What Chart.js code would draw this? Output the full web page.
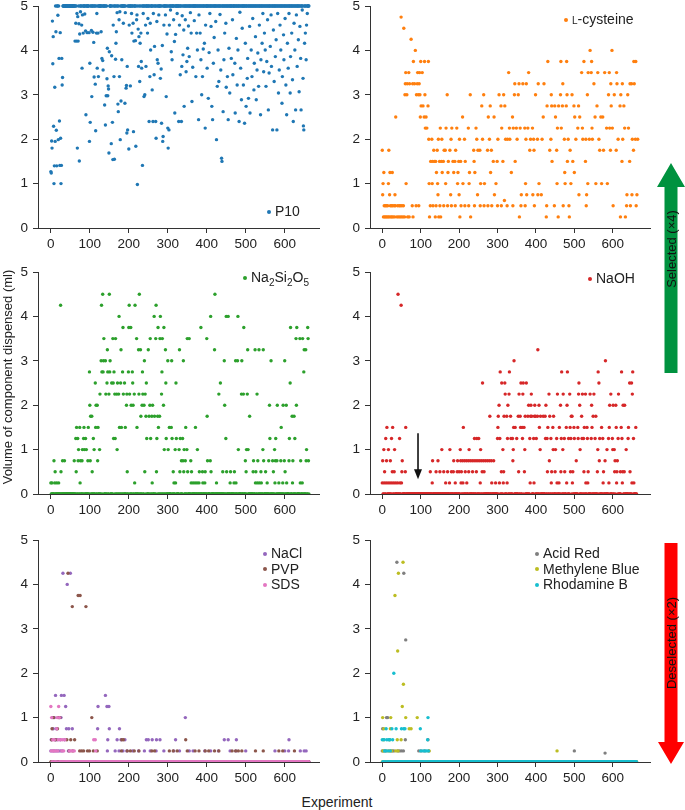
<!DOCTYPE html>
<html>
<head>
<meta charset="utf-8">
<script src="https://cdn.jsdelivr.net/npm/chart.js@4.4.1/dist/chart.umd.min.js"></script>
<style>
  body { margin: 0; width: 685px; height: 810px; position: relative; background: #fff; overflow: hidden;
         font-family: "Liberation Sans", Arial, sans-serif; color: #222; }
  .panel { position: absolute; }
  .lg { position: absolute; font-size: 14px; line-height: 15.5px; white-space: nowrap; }
  .lg div { display: flex; align-items: center; height: 15.5px; }
  .lg i { display: inline-block; width: 4px; height: 4px; border-radius: 50%; margin-right: 4px; }
  .lg sub { font-size: 10px; vertical-align: -4px; line-height: 0; }
  .axis-title { position: absolute; font-size: 13px; white-space: nowrap; }
</style>
</head>
<body>

<div class="panel" style="left:0;top:-9px;width:330px;height:267px"><canvas id="p10"></canvas></div>
<div class="panel" style="left:340px;top:-9px;width:345px;height:267px"><canvas id="lcys"></canvas></div>
<div class="panel" style="left:0;top:257px;width:330px;height:267px"><canvas id="silicate"></canvas></div>
<div class="panel" style="left:340px;top:257px;width:345px;height:267px"><canvas id="naoh"></canvas></div>
<div class="panel" style="left:0;top:525px;width:330px;height:267px"><canvas id="salts"></canvas></div>
<div class="panel" style="left:340px;top:525px;width:345px;height:267px"><canvas id="dyes"></canvas></div>

<div class="lg" style="left:267px;top:204px"><div><i style="background:#1f77b4"></i><span>P10</span></div></div>
<div class="lg" style="left:564px;top:12px"><div><i style="background:#ff7f0e"></i><span><span style="font-variant:small-caps">l</span>-cysteine</span></div></div>
<div class="lg" style="left:243px;top:270px"><div><i style="background:#2ca02c"></i><span>Na<sub>2</sub>Si<sub>2</sub>O<sub>5</sub></span></div></div>
<div class="lg" style="left:588px;top:271px"><div><i style="background:#d62728"></i><span>NaOH</span></div></div>
<div class="lg" style="left:263px;top:546px">
  <div><i style="background:#9467bd"></i><span>NaCl</span></div>
  <div><i style="background:#8c564b"></i><span>PVP</span></div>
  <div><i style="background:#e377c2"></i><span>SDS</span></div>
</div>
<div class="lg" style="left:535px;top:546px">
  <div><i style="background:#7f7f7f"></i><span>Acid Red</span></div>
  <div><i style="background:#bcbd22"></i><span>Methylene Blue</span></div>
  <div><i style="background:#17becf"></i><span>Rhodamine B</span></div>
</div>

<div class="axis-title" style="left:7px;top:377px;transform:translate(-50%,-50%) rotate(-90deg)">Volume of component dispensed (ml)</div>
<div class="axis-title" style="left:337px;top:802px;transform:translate(-50%,-50%);font-size:14px">Experiment</div>

<svg width="685" height="810" style="position:absolute;left:0;top:0;pointer-events:none">
  <polygon fill="#00923f" points="664.5,373 664.5,187 657,187 671,163 685,187 677.5,187 677.5,373"/>
  <text transform="translate(671,249) rotate(-90)" text-anchor="middle" dominant-baseline="central"
        font-family="Liberation Sans, Arial, sans-serif" font-size="13" fill="#111">Selected (×4)</text>
  <polygon fill="#ff0000" points="664.5,543 677.5,543 677.5,742 684,742 671,764 658,742 664.5,742"/>
  <text transform="translate(671,643) rotate(-90)" text-anchor="middle" dominant-baseline="central"
        font-family="Liberation Sans, Arial, sans-serif" font-size="13" fill="#111">Deselected (×2)</text>
</svg>

<script>
// ---- data ----
const experimentCount = 663;
const xTicks = [0, 100, 200, 300, 400, 500, 600];
const yTicks = [0, 1, 2, 3, 4, 5];

// P10: experiments not listed dispensed the full 5 ml
const p10Points = [
  [0,1.27],[1,1.24],[2,1.96],[3,1.8],[4,4.66],[5,3.7],[6,4.31],[7,2.29],[8,1.0],[9,1.4],[10,3.17],[11,1.95],
  [13,4.42],[14,2.2],[15,1.4],[18,4.79],[19,1.99],[21,3.82],[22,2.41],[23,1.41],[24,4.4],[25,2.02],[26,1.0],
  [27,1.41],[28,3.82],[29,3.22],[30,3.39],
  [62,4.21],[64,4.61],[66,4.21],[67,4.83],[68,1.8],[69,4.76],[70,4.21],[72,4.6],[73,1.51],[74,4.37],[76,4.87],
  [79,4.57],[80,3.6],[81,4.8],[83,4.39],[87,4.82],[89,4.44],[90,2.55],[93,4.4],[98,4.4],[99,1.95],[100,3.71],
  [101,2.38],[104,4.45],[105,2.96],[108,4.41],[110,4.18],[111,3.4],[114,3.24],[115,2.19],[117,4.39],[118,4.83],
  [119,3.6],[121,4.39],[122,3.41],
  [129,4.42],[131,3.82],[133,3.77],[134,3.56],[138,2.77],[140,2.32],[142,2.98],[144,3.36],[145,4.05],[146,2.98],
  [147,3.2],[148,3.13],[149,1.69],[150,3.97],[155,1.9],[156,3.88],[158,2.38],[159,1.54],[160,4.57],[162,3.41],
  [163,1.55],[166,3.8],[167,4.16],[168,4.42],[170,4.85],[172,2.79],[173,2.62],[175,4.69],[176,3.41],[177,4.87],
  [178,1.99],[180,2.86],[182,3.79],[186,4.61],[190,2.81],[191,4.85],[193,3.15],[194,3.21],[195,2.14],[196,3.64],
  [197,2.21],[200,1.78],[201,4.57],[204,3.2],[207,4.83],[208,4.39],
  [211,4.61],[212,2.17],[213,4.21],[217,4.22],[218,1.84],[220,4.69],[221,4.8],[222,0.98],[224,4.48],[225,3.64],
  [226,4.31],[228,3.3],[229,4.16],[231,4.39],[232,3.75],[233,3.6],[235,1.41],[237,4.83],[239,2.96],[241,3.0],
  [243,4.57],[244,3.64],[248,4.39],[249,4.72],[252,2.4],[254,3.41],[255,4.61],[256,4.01],[260,3.11],[262,2.4],
  [263,4.83],[265,3.45],[266,4.09],[269,2.4],[270,2.02],[272,4.65],[273,3.79],[275,3.71],[277,4.8],[281,3.37],
  [283,3.58],[284,2.36],[286,4.11],[287,1.95],[288,2.06],[290,4.57],[294,4.8],[296,2.96],[298,4.37],
  [300,2.25],[301,1.8],[303,2.21],[304,4.57],[307,4.91],[309,3.97],[311,3.79],[315,4.69],[317,4.2],[318,2.59],
  [320,4.36],[324,4.83],[328,2.4],[330,4.57],[332,3.45],[335,2.4],[336,3.64],[337,4.78],[339,3.9],[341,4.46],
  [342,2.74],[345,4.69],[347,3.52],[349,3.75],[351,4.05],[353,4.55],[355,3.86],[358,4.85],[360,4.39],[362,2.85],
  [364,3.62],[368,4.67],[372,3.41],[374,4.39],[376,4.01],[379,2.44],[380,4.8],[383,4.39],[385,3.79],[387,3.0],
  [389,3.41],[391,4.03],[394,4.16],[396,2.25],[397,4.57],
  [401,3.6],[404,2.92],[406,3.95],[408,4.83],[411,4.54],[413,2.74],[415,2.44],[417,3.71],[419,4.29],[423,4.65],
  [425,1.99],[427,3.19],[429,4.01],[431,3.3],[434,4.81],[436,3.56],[438,1.57],[439,1.5],[442,2.62],[444,3.79],
  [446,4.39],[449,4.61],[450,3.17],[453,3.41],[455,2.44],[457,4.05],[459,3.04],[463,3.82],[466,4.69],[467,3.45],
  [472,3.71],[473,2.59],[476,4.27],[478,3.22],[480,4.01],[483,2.4],[485,4.86],[487,3.6],[489,2.89],[491,4.5],
  [494,3.22],[497,2.36],[499,4.16],
  [501,2.74],[504,3.37],[505,3.82],[507,2.92],[510,4.54],[511,2.59],[514,4.01],[516,3.41],[518,4.72],[521,3.11],
  [522,3.71],[525,4.31],[527,2.89],[529,3.56],[531,3.94],[533,3.19],[535,4.57],[538,2.55],[539,3.79],[542,4.16],
  [544,4.83],[546,3.52],[548,4.39],[550,4.01],[552,3.19],[554,3.75],[556,4.69],[558,2.66],[560,3.49],[563,4.09],
  [565,4.8],[566,3.64],[569,2.21],[571,4.46],[573,3.3],[576,3.86],[578,4.24],[580,2.21],[582,4.83],[584,3.04],
  [586,3.56],[588,4.57],[590,4.01],[593,2.81],[594,3.41],[597,4.35],[598,3.79],
  [601,4.72],[603,3.22],[605,2.55],[607,4.16],[609,3.6],[611,4.83],[614,3.04],[615,3.86],[618,4.39],[620,3.34],
  [622,2.4],[624,4.61],[626,4.01],[628,2.66],[630,4.8],[632,3.64],[635,4.24],[637,3.07],[639,4.54],[641,3.82],
  [642,2.66],[645,4.91],[647,3.37],[648,2.3],[649,2.21],[651,4.16],[653,4.39],[655,3.79],[656,4.57],[658,4.83]
];

// row format: [volume in ml, experiments at that volume]
const lcysteineRows = [
  [0.25, [0,3,6,9,12,15,18,22,25,28,32,35,38,42,46,50,54,58,62,66,70,75,80,99,123,138,147,152,169,202,230,357,427,458,487,620,633]],
  [0.5, [5,8,11,14,17,21,24,27,31,34,40,44,47,51,55,60,65,78,88,95,110,125,132,140,150,160,170,180,190,205,215,225,240,255,265,275,285,300,310,325,340,361,372,386,396,406,421,428,441,448,456,471,486,501,511,521,531,546,561,576,591,601,611,621,636,646,656,661]],
  [0.62, [318]],
  [0.75, [1,19,33,61,145,178,200,248,261,274,292,362,376,392,405,414,512,532,545,624,637,650,663]],
  [1.0, [2,16,62,122,130,144,165,181,196,210,226,256,266,281,296,341,373,394,408,455,476,491,501,521,535,556,571,586,609]],
  [1.25, [4,20,26,126,141,151,156,171,186,197,227,241,282,316,331,336,441,475,500]],
  [1.5, [126,131,136,139,146,149,154,159,172,179,184,189,194,199,204,216,224,239,254,264,279,289,299,309,314,329,346,356,442,466,474,482,496,519,529,559,574,599,624,644]],
  [1.75, [0,17,111,134,143,161,164,176,191,201,209,214,224,229,238,244,249,254,259,264,274,284,301,331,344,384,395,431,436,439,454,469,479,489,519,536,554,566,576,594,609,626,641,654]],
  [2.0, [101,109,121,129,146,155,166,179,201,214,224,246,261,279,301,311,316,321,326,332,339,351,354,359,366,374,386,394,404,416,419,429,439,456,464,474,484,494,504,514,522,530,539,547,554,564,574,584,596,604,614,626,639,651,659,665]],
  [2.25, [112,116,151,166,181,194,224,244,291,311,319,331,341,349,359,371,379,391,399,429,441,456,466,481,509,521,534,546,561,574,584,592,599,611,619,631,641,649]],
  [2.5, [35,96,99,109,114,119,209,276,291,329,339,419,431,451,469,481,501,514,554,569,574]],
  [2.75, [101,106,119,259,281,309,319,381,421,429,441,449,459,469,479,499,511,559,596,619,629]],
  [3.0, [59,64,86,89,94,98,111,169,229,264,304,316,344,354,399,440,464,481,494,534,589,604,621,639]],
  [3.25, [60,65,71,79,84,91,96,345,356,366,375,406,421,470,551,595,611,625,645,649,656]],
  [3.5, [61,69,92,97,104,329,381,519,536,544,561,579,591,610]],
  [3.75, [81,100,110,120,431,465,480,525,545,655,660]],
  [4.0, [86,541,598]],
  [4.25, [75]],
  [4.5, [56]],
  [4.75, [49]]
];

// experiments not listed dispensed no Na2Si2O5
const silicateRows = [
  [0.25, [0,3,10,15,20,75,215,240,260,285,290,316,320,360,365,370,375,380,385,390,395,400,410,420,425,450,455,460,470,475,505,525,530,535,540,545,555,565,575,585,595,600,605,615,620,640,645]],
  [0.5, [11,26,65,106,196,241,271,314,321,331,341,351,361,371,381,389,396,401,411,421,431,441,451,461,471,481,501,519,526,531,539,551,561,571,581,601,626]],
  [0.75, [8,30,35,60,70,76,80,95,101,120,200,255,330,335,339,345,350,359,402,409,480,499,520,531,546,559,569,576,580,590,599,611,621,631,641,655,661]],
  [1.0, [71,81,86,91,99,111,125,170,216,291,301,319,329,342,349,376,481,502,506,524,544,574,656]],
  [1.25, [64,69,84,89,102,109,161,165,246,256,272,284,296,311,322,332,338,449,562,577,612,626]],
  [1.5, [66,74,85,96,115,121,176,181,191,201,221,254,276,286,304,309,346,371,591]],
  [1.75, [102,105,214,231,236,244,252,259,266,274,279,401,510,619,624]],
  [2.0, [100,116,119,159,194,199,206,211,234,239,254,261,289,446,561,581,596,604,630]],
  [2.25, [126,141,149,164,169,174,186,195,202,214,226,236,242,284,431,489,494,504,529]],
  [2.5, [114,136,144,156,160,171,179,189,210,216,245,265,295,321,435,614]],
  [2.75, [99,131,134,146,151,162,175,184,199,209,235,285,649]],
  [3.0, [129,135,140,152,166,240,300,310,340,445,474,479,490,565,600]],
  [3.25, [145,180,225,230,250,270,294,330,420,505,524,534,545,650,654]],
  [3.5, [136,159,166,220,255,269,280,286,350,355,400,629,639,646,660]],
  [3.75, [150,185,200,205,275,290,385,495,615,631,659]],
  [4.0, [175,265,281,410,450,455,480]],
  [4.25, [25,130,201,216,270]],
  [4.5, [133,150,227,421]]
];

const naohRows = [
  [0.25, [0,5,10,15,20,25,30,35,40,46,50,130,165,175,190,205,210,220,255,285,295,305,315,325,385,395,440,455,460,480,495,530,535,575,590,610,625,650,655]],
  [0.5, [6,26,31,51,60,125,140,150,160,170,180,185,195,200,206,216,225,235,245,260,265,310,316,355,370,430,441,450,465,475,490,496,525,536,560,576,605,611,620,626,630,645]],
  [0.75, [1,11,21,27,52,131,145,186,196,204,209,214,219,224,229,234,239,244,249,254,259,264,269,274,279,284,290,340,435,505,565,580,606,612]],
  [1.0, [4,16,32,155,176,203,226,256,314,341,371,411,445,451,470,515,561,585,600,604,635]],
  [1.25, [9,24,45,240,246,251,300,306,326,335,339,350,365,384,394,401,425,429,439,454,466,474,485,491,500,510,520,524,534,544,554,566,574,589,599,614,624,640,654]],
  [1.5, [12,27,61,211,301,342,346,360,364,369,409,431,444,461,479,489,499,509,526,533,546,571,591,609,622,641,660]],
  [1.75, [280,302,317,324,334,354,359,372,379,386,389,396,399,404,412,419,424,436,446,492,494,519,549,556]],
  [2.0, [304,327,381,387,397,408,426,464,481,514,545,592,601,608,627,631]],
  [2.25, [320,330,356,366,388,434,456,471,488,511,521,529,541,551,595,615,651]],
  [2.5, [261,311,319,361,367,375,512,564,644,649]],
  [2.75, [307,331,467,482,562,623,652]],
  [3.0, [343,581]],
  [3.25, [405]],
  [4.25, [49]],
  [4.5, [41]]
];
// black arrow in the NaOH panel: experiment, start volume, end volume
const naohArrow = [93, 1.37, 0.33];

const naclRows = [
  [0.25, [0,5,10,15,20,25,30,45,145,165,175,185,195,210,225,240,255,270,290,315,330,345,355,365,395,410,430,460,475,500,575,600,610,640,650,655]],
  [0.5, [1,11,16,24,35,146,170,180,190,245,250,260,271,280,320,445,455,476,611]],
  [0.75, [6,14,40,46,55,120,150,176]],
  [1.0, [4,9,21,26,345]],
  [1.25, [38,121,144,149]],
  [1.5, [12,27,34,140]],
  [4.0, [42]],
  [4.25, [31,50]]
];
const pvpRows = [
  [0.25, [47,56,74,79,84,94,99,109,119,181,196,204,214,226,259,266,304,314,324,350,370,380,396,405,420,431,465,474,481,490,525,545,585,595,625]],
  [0.5, [2,12,41,51,61,182,186,346]],
  [0.75, [3,17]],
  [1.0, [7,19,23,105]],
  [3.5, [55,90]],
  [3.75, [70,75]],
  [4.25, [44]]
];
const sdsRows = [
  [0.25, [1,6,8,13,18,22,28,33,48,52,57,60,115]],
  [0.5, [5,9,19,25,30,36,110,114]],
  [0.75, [0,15,20]],
  [1.0, [2,16,22]],
  [1.25, [0,20]]
];

const acidRedRows = [
  [0.2, [580]],
  [0.25, [0,5,10,20,26,30,40,45,50,55,95,101,110,121,500]],
  [0.5, [60,119]],
  [0.75, [1]],
  [1.0, [11,14]],
  [2.75, [61]],
  [4.25, [56]],
  [4.5, [38]]
];
const methyleneBlueRows = [
  [0.25, [2,16,24,35,41,122,455]],
  [0.5, [3,19,39,49]],
  [0.75, [4,21,70,75]],
  [1.0, [1,22,61,91]],
  [1.25, [52]],
  [1.75, [55]],
  [2.5, [40]],
  [3.75, [33]],
  [4.25, [42]],
  [4.5, [54]]
];
const rhodamineRows = [
  [0.25, [6,9,15,21,25,100,106,111,115,120]],
  [0.5, [0,5,12,17,20,27,118]],
  [0.75, [10,25,36,50,56,59,99]],
  [1.0, [119]],
  [2.0, [30]]
];

// ---- helpers ----
function rowsToMap(rows) {
  const m = new Map();
  rows.forEach(([vol, xs]) => xs.forEach(x => m.set(x, vol)));
  return m;
}
function pairsToMap(pairs) {
  return new Map(pairs);
}
function everyExperiment(map, unlisted) {
  const out = [];
  for (let x = 0; x < experimentCount; x++) out.push({ x, y: map.has(x) ? map.get(x) : unlisted });
  return out;
}
function listedOnly(map) {
  return [...map].map(([x, y]) => ({ x, y }));
}

const axisColor = '#333';
const fontFamily = '"Liberation Sans", Arial, sans-serif';

function series(data, color, order) {
  return {
    data, order: order || 0,
    backgroundColor: color, pointBackgroundColor: color,
    borderWidth: 0, pointBorderWidth: 0,
    pointRadius: 1.7, pointHoverRadius: 0,
    // dots at 0 ml are cut by the x axis, as in the original
    clip: { left: 6, top: 6, right: 6, bottom: 0 }
  };
}

function makePanel(id, datasets, xMin, xMax, yWidth, padRight, plugins) {
  return new Chart(document.getElementById(id), {
    type: 'scatter',
    data: { datasets },
    options: {
      responsive: true,
      maintainAspectRatio: false,
      animation: false,
      events: [],
      layout: { padding: { top: 15, right: padRight, left: 0, bottom: 0 } },
      plugins: { legend: { display: false }, tooltip: { enabled: false } },
      scales: {
        x: {
          type: 'linear', min: xMin, max: xMax,
          afterBuildTicks: s => { s.ticks = xTicks.map(v => ({ value: v })); },
          afterFit: s => { s.height = 30; },
          grid: { drawOnChartArea: false, drawTicks: true, tickLength: 5, color: axisColor },
          border: { display: true, color: axisColor, width: 1 },
          ticks: { autoSkip: false, maxRotation: 0, padding: 3, color: '#222',
                   font: { size: 13.5, family: fontFamily } }
        },
        y: {
          type: 'linear', min: 0, max: 5,
          afterBuildTicks: s => { s.ticks = yTicks.map(v => ({ value: v })); },
          afterFit: s => { s.width = yWidth; },
          grid: { drawOnChartArea: false, drawTicks: true, tickLength: 5, color: axisColor },
          border: { display: true, color: axisColor, width: 1 },
          ticks: { autoSkip: false, padding: 5, color: '#222',
                   font: { size: 13.5, family: fontFamily } }
        }
      }
    },
    plugins: plugins || []
  });
}

const arrowPlugin = {
  id: 'naohArrow',
  afterDatasetsDraw(chart) {
    const { ctx, scales: { x, y } } = chart;
    const px = x.getPixelForValue(naohArrow[0]);
    const top = y.getPixelForValue(naohArrow[1]);
    const tip = y.getPixelForValue(naohArrow[2]);
    ctx.save();
    ctx.strokeStyle = '#111';
    ctx.fillStyle = '#111';
    ctx.lineWidth = 1.6;
    ctx.beginPath();
    ctx.moveTo(px, top);
    ctx.lineTo(px, tip - 8);
    ctx.stroke();
    ctx.beginPath();
    ctx.moveTo(px - 4, tip - 10);
    ctx.lineTo(px + 4, tip - 10);
    ctx.lineTo(px, tip);
    ctx.closePath();
    ctx.fill();
    ctx.restore();
  }
};

const L = [-33, 688, 38, 11];
const R = [-32, 697, 30, 35];

makePanel('p10', [series(everyExperiment(pairsToMap(p10Points), 5), '#1f77b4')], ...L);
makePanel('lcys', [series(listedOnly(rowsToMap(lcysteineRows)), '#ff7f0e')], ...R);
makePanel('silicate', [series(everyExperiment(rowsToMap(silicateRows), 0), '#2ca02c')], ...L);
makePanel('naoh', [series(everyExperiment(rowsToMap(naohRows), 0), '#d62728')], ...R, [arrowPlugin]);
makePanel('salts', [
  series(everyExperiment(rowsToMap(naclRows), 0), '#9467bd', 2),
  series(everyExperiment(rowsToMap(pvpRows), 0), '#8c564b', 1),
  series(everyExperiment(rowsToMap(sdsRows), 0), '#e377c2', 0)
], ...L);
makePanel('dyes', [
  series(everyExperiment(rowsToMap(acidRedRows), 0), '#7f7f7f', 2),
  series(everyExperiment(rowsToMap(methyleneBlueRows), 0), '#bcbd22', 1),
  series(everyExperiment(rowsToMap(rhodamineRows), 0), '#17becf', 0)
], ...R);
</script>
</body>
</html>
